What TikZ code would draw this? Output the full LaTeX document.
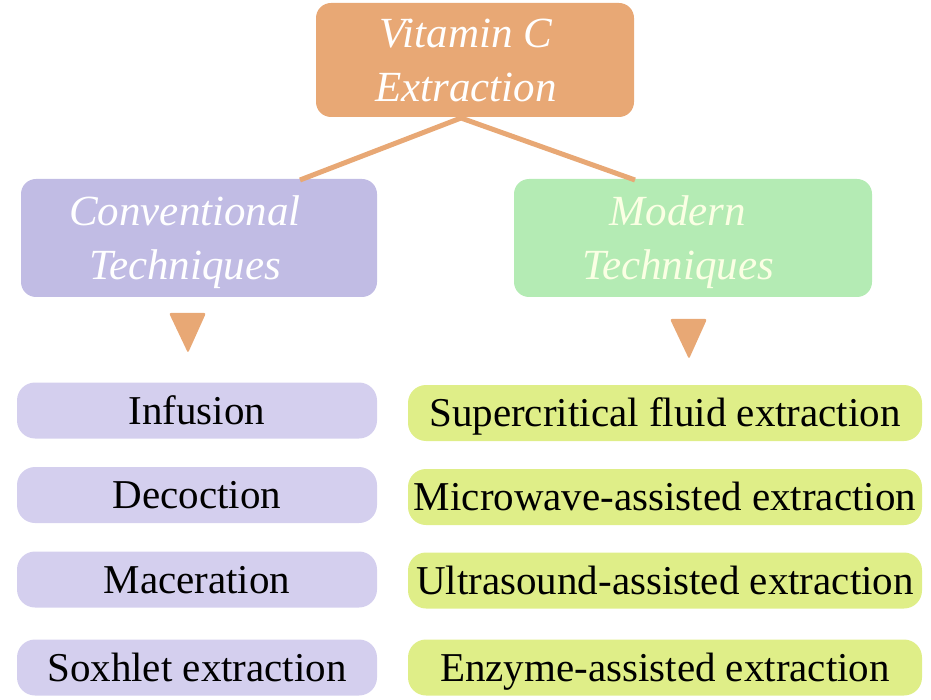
\documentclass[tikz,border=0pt]{standalone}
\usepackage{fontspec}
\setmainfont{Liberation Serif}
\definecolor{orangeC}{HTML}{E8A875}
\definecolor{convC}{HTML}{C1BCE4}
\definecolor{modC}{HTML}{B4EBB4}
\definecolor{leftC}{HTML}{D4CFEE}
\definecolor{rightC}{HTML}{DFEE88}
\definecolor{modText}{HTML}{FBFFE4}
\newcommand{\headlines}[3]{\begin{tabular}[b]{@{}c@{}}#1\\#2\end{tabular}\hspace*{#3}}
\tikzset{
  headbox/.style={fill=#1, rounded corners=15pt, inner sep=0pt,
    font=\fontsize{43}{54}\selectfont\itshape, text height=83pt, text depth=0pt},
  leftitem/.style={fill=leftC, rounded corners=18pt, minimum width=360pt, minimum height=56pt,
    inner sep=0pt, font=\fontsize{41}{48}\selectfont, text height=27pt, text depth=0pt},
  rightitem/.style={fill=rightC, rounded corners=18pt, minimum width=514pt, minimum height=56pt,
    inner sep=0pt, font=\fontsize{41}{48}\selectfont, text height=27pt, text depth=0pt},
  link/.style={draw=orangeC, line width=5pt},
  tri/.style={fill=orangeC, rounded corners=2pt}
}
\begin{document}
\begin{tikzpicture}[x=1pt,y=-1pt]
\useasboundingbox (0,0) rectangle (931,700);
% top
\node[headbox=orangeC, minimum width=318pt, minimum height=114pt, text=white] (top) at (475,60) {\headlines{Vitamin C}{Extraction}{18pt}};
\node[headbox=convC, minimum width=356pt, minimum height=118pt, text=white] (conv) at (199,238) {\headlines{Conventional}{Techniques}{28pt}};
\node[headbox=modC, minimum width=358pt, minimum height=118pt, text=modText] (mod) at (693,238) {\headlines{Modern}{Techniques}{30pt}};
% connectors
\coordinate (cl) at (300,180);
\coordinate (cr) at (635,180);
\coordinate (apex) at (461,118);
\draw[link] (cl) -- (apex) -- (cr);
% triangles
\fill[tri] (169,313) -- (206,313) -- (188,353) -- cycle;
\fill[tri] (670,319) -- (707,319) -- (689,359) -- cycle;
% left items
\node[leftitem] (l1) at (197,410.5) {Infusion};
\node[leftitem] (l2) at (197,495) {Decoction};
\node[leftitem] (l3) at (197,579.5) {Maceration};
\node[leftitem] (l4) at (197,667.5) {Soxhlet extraction};
% right items
\node[rightitem] (r1) at (665,413) {Supercritical fluid extraction};
\node[rightitem] (r2) at (665,497) {Microwave-assisted extraction};
\node[rightitem] (r3) at (665,580.5) {Ultrasound-assisted extraction};
\node[rightitem] (r4) at (665,667.5) {Enzyme-assisted extraction};
\end{tikzpicture}
\end{document}
